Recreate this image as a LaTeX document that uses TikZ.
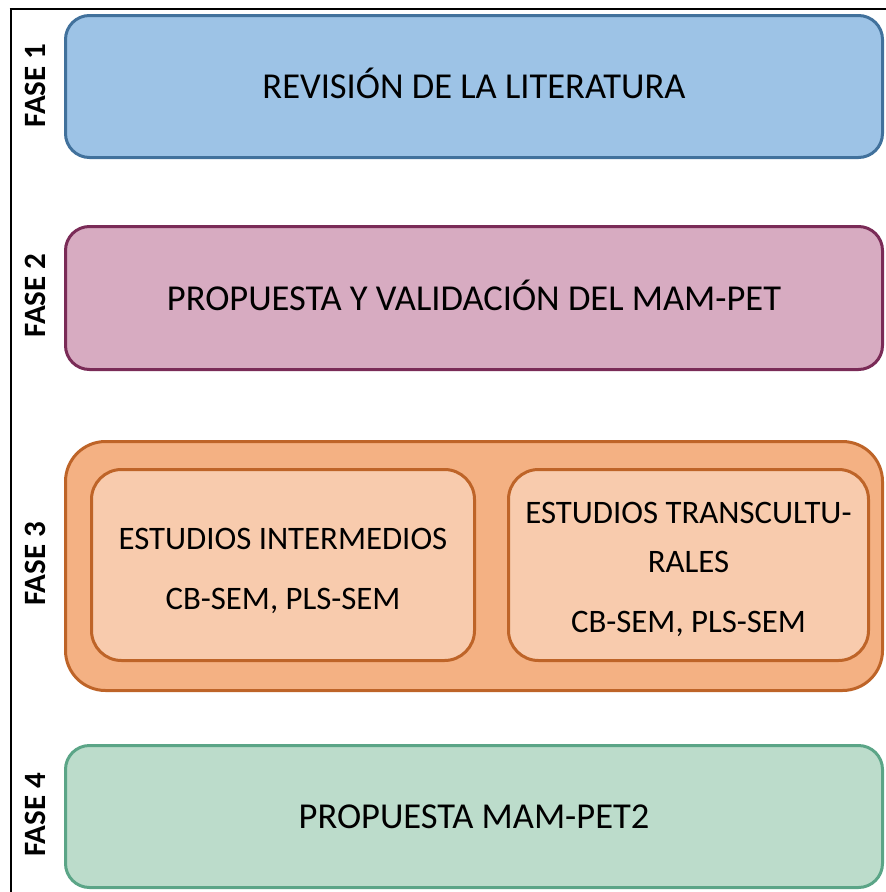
\documentclass[tikz,border=0pt]{standalone}
\usepackage{fontspec}
\setmainfont{Carlito}
\definecolor{bAfill}{HTML}{9DC3E6}
\definecolor{bAdraw}{HTML}{41719C}
\definecolor{bBfill}{HTML}{D7ABC1}
\definecolor{bBdraw}{HTML}{7A2B57}
\definecolor{bCfill}{HTML}{F4B183}
\definecolor{bCdraw}{HTML}{BE6428}
\definecolor{bCin}{HTML}{F8CBAD}
\definecolor{bDfill}{HTML}{BCDCCB}
\definecolor{bDdraw}{HTML}{5BA587}
\begin{document}
\begin{tikzpicture}[x=1pt,y=-1pt,
  phasebox/.style={draw, line width=3pt, rounded corners=24pt, minimum width=817pt, minimum height=142pt, inner sep=0pt, font=\fontsize{36.5}{42}\selectfont, text=black, text height=24pt, text depth=0pt},
  innerbox/.style={draw=bCdraw, fill=bCin, line width=3pt, rounded corners=30pt, minimum height=191pt, inner sep=0pt},
  innertext/.style={align=center, inner sep=0pt, font=\fontsize{32.8}{49}\selectfont},
  phaselabel/.style={rotate=90, font=\fontsize{31}{36}\selectfont\bfseries, inner sep=0pt}]
\useasboundingbox (0,0) rectangle (886,892);
\draw[line width=2.5pt] (9.5,9) -- (886,9);
\draw[line width=1.6pt] (11,9) -- (11,892);
\node[phasebox, draw=bAdraw, fill=bAfill] (p1) at (474,86.5) {REVISIÓN DE LA LITERATURA};
\node[phasebox, draw=bBdraw, fill=bBfill, minimum height=143pt] (p2) at (474,298) {PROPUESTA Y VALIDACIÓN DEL MAM-PET};
\node[phasebox, draw=bCdraw, fill=bCfill, minimum height=249pt, rounded corners=40pt] (p3) at (474,566) {};
\node[innerbox, minimum width=383pt] (i1) at (283,565) {};
\node[innerbox, minimum width=360pt] (i2) at (688.5,565) {};
\node[innertext] (t1) at ([yshift=-6pt]i1.center) {ESTUDIOS INTERMEDIOS\\[11pt]CB-SEM, PLS-SEM};
\node[innertext] (t2) at ([yshift=-4pt]i2.center) {ESTUDIOS TRANSCULTU-\\RALES\\[11pt]CB-SEM, PLS-SEM};
\node[phasebox, draw=bDdraw, fill=bDfill] (p4) at (474,816.5) {PROPUESTA MAM-PET2};
\node[phaselabel] (f1) at (35,85.5) {FASE 1};
\node[phaselabel] (f2) at (35,295.5) {FASE 2};
\node[phaselabel] (f3) at (35,564) {FASE 3};
\node[phaselabel] (f4) at (35,815) {FASE 4};
\end{tikzpicture}
\end{document}
